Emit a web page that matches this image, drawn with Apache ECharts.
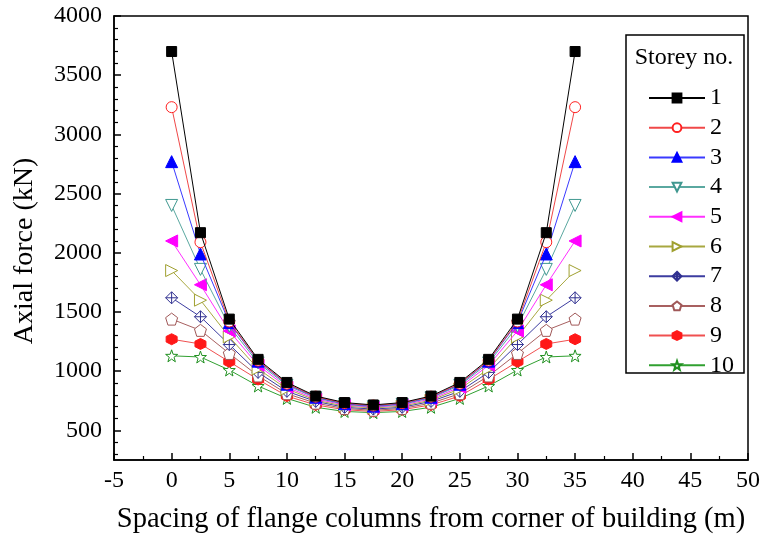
<!DOCTYPE html>
<html>
<head>
<meta charset="utf-8">
<script src="https://cdn.jsdelivr.net/npm/echarts@6/dist/echarts.min.js"></script>
<style>html,body{margin:0;padding:0;background:#fff}#c{width:765px;height:543px}</style>
</head>
<body>
<div id="c"></div>
<script>
// X positions of flange columns (m)
var xs = [0, 2.5, 5, 7.5, 10, 12.5, 15, 17.5, 20, 22.5, 25, 27.5, 30, 32.5, 35];
// Axial force (kN) per storey
var s1  = [3700, 2170, 1440, 1100, 905, 790, 735, 715, 735, 790, 905, 1100, 1440, 2170, 3700];
var s2  = [3230, 2090, 1420, 1090, 895, 785, 730, 710, 730, 785, 895, 1090, 1420, 2090, 3230];
var s3  = [2770, 1990, 1410, 1085, 890, 780, 725, 705, 725, 780, 890, 1085, 1410, 1990, 2770];
var s4  = [2400, 1860, 1380, 1070, 880, 775, 720, 700, 720, 775, 880, 1070, 1380, 1860, 2400];
var s5  = [2100, 1730, 1340, 1050, 865, 765, 715, 695, 715, 765, 865, 1050, 1340, 1730, 2100];
var s6  = [1850, 1600, 1290, 1020, 850, 755, 705, 690, 705, 755, 850, 1020, 1290, 1600, 1850];
var s7  = [1620, 1460, 1225, 990, 830, 745, 695, 680, 695, 745, 830, 990, 1225, 1460, 1620];
var s8  = [1440, 1345, 1150, 960, 810, 730, 685, 670, 685, 730, 810, 960, 1150, 1345, 1440];
var s9  = [1270, 1230, 1080, 930, 790, 715, 675, 660, 675, 715, 790, 930, 1080, 1230, 1270];
var s10 = [1130, 1120, 1010, 875, 770, 695, 660, 650, 660, 695, 770, 875, 1010, 1120, 1130];
var seriesNames = ['1','2','3','4','5','6','7','8','9','10'];
var seriesValues = [s1,s2,s3,s4,s5,s6,s7,s8,s9,s10];
var xTicks = [-5,0,5,10,15,20,25,30,35,40,45,50];
var yTicks = [500,1000,1500,2000,2500,3000,3500,4000];
var yMinorTicks = [300,400,600,700,800,900,1100,1200,1300,1400,1600,1700,1800,1900,2100,2200,2300,2400,2600,2700,2800,2900,3100,3200,3300,3400,3600,3700,3800,3900];

var lineColors = ['#000000','#f04848','#3a3aff','#5aa8a0','#ff30ff','#a8a840','#3c3ca0','#a86060','#f05050','#30a030'];
var markColors = ['#000000','#ff2020','#0000ff','#409890','#ff00ff','#a0a030','#303090','#a05858','#ff1818','#209020'];
var filled = [true,false,true,false,true,false,false,false,true,false];
var symbols = [
  'rect',
  'circle',
  'triangle',
  'path://M0,0L10,0L5,9Z',
  'path://M9,0L9,10L0,5Z',
  'path://M0,0L0,10L9,5Z',
  'path://M5,0L10,5L5,10L0,5Z M0,5L10,5 M5,0L5,10',
  'path://M50,0L97.6,34.5L79.4,90.5L20.6,90.5L2.4,34.5Z',
  'path://M50,0L93.3,25L93.3,75L50,100L6.7,75L6.7,25Z',
  'path://M50,0L61.76,33.82L97.55,34.55L69.02,56.18L79.39,90.45L50,70L20.61,90.45L30.98,56.18L2.45,34.55L38.24,33.82Z'
];
var sizes = [10,11,12,12,12,12,12,12,11,12];

var FONT = 'Liberation Serif';
var series = seriesNames.map(function(n,i){
  return {
    name: n, type: 'line', xAxisIndex:0, yAxisIndex:0,
    data: xs.map(function(x,j){ return [x, seriesValues[i][j]]; }),
    symbol: symbols[i], symbolSize: sizes[i], showAllSymbol:true,
    lineStyle: {color: lineColors[i], width: 1},
    itemStyle: {color: filled[i] ? markColors[i] : '#ffffff', borderColor: markColors[i], borderWidth: 1},
    emphasis: {disabled:true},
    z: 20 - i,
    animation: false
  };
});

var chart = echarts.init(document.getElementById('c'), null, {renderer:'canvas'});
chart.setOption({
  animation: false,
  backgroundColor: '#fff',
  grid: {left:114, right:17, top:16, bottom:83, show:true, borderColor:'#000', borderWidth:1.5, backgroundColor:'transparent'},
  xAxis: [{
    type:'value', min:-5, max:50, interval:5,
    axisLine:{onZero:false, lineStyle:{color:'#000', width:1.5}},
    axisTick:{inside:true, length:7, lineStyle:{color:'#000', width:1.5}},
    minorTick:{show:true, splitNumber:2, length:4, lineStyle:{color:'#000', width:1.2}},
    splitLine:{show:false},
    axisLabel:{color:'#000', fontFamily:FONT, fontSize:24, margin:9, customValues: xTicks,
      formatter:function(v){return String(v);}},
    name:'Spacing of flange columns from corner of building (m)',
    nameLocation:'middle', nameGap:45,
    nameTextStyle:{color:'#000', fontFamily:FONT, fontSize:28.5}
  }],
  yAxis: [{
    type:'value', min:250, max:4000, interval:250,
    axisLine:{onZero:false, lineStyle:{color:'#000', width:1.5}},
    axisTick:{inside:true, length:7, lineStyle:{color:'#000', width:1.5}, customValues: yTicks},
    splitLine:{show:false},
    axisLabel:{color:'#000', fontFamily:FONT, fontSize:24, margin:12, customValues: yTicks,
      formatter:function(v){return String(v);}}
  },{
    type:'value', min:250, max:4000, position:'left',
    axisLine:{show:false, onZero:false},
    axisTick:{inside:true, length:4, lineStyle:{color:'#000', width:1.2}, customValues: yMinorTicks},
    axisLabel:{show:false}, splitLine:{show:false}
  }],
  legend: {
    data: seriesNames, orient:'vertical', left:643, top:81, z:10,
    itemWidth:56, itemHeight:11, itemGap:5.7,
    textStyle:{color:'#000', fontFamily:FONT, fontSize:24},
    selectedMode:false
  },
  graphic: [
    {type:'text', z:2, x:25, y:251, rotation:Math.PI/2,
      style:{text:'Axial force (kN)', fill:'#000', font:'28px "Liberation Serif"', align:'center', verticalAlign:'middle'}},
    {type:'rect', z:1, shape:{x:626, y:35, width:118, height:338}, style:{fill:'#fff', stroke:'#000', lineWidth:1.5}},
    {type:'text', z:2, x:684, y:58, style:{text:'Storey no.', fill:'#000', font:'24px "Liberation Serif"', align:'center', verticalAlign:'middle'}}
  ],
  series: series
});
</script>
</body>
</html>
